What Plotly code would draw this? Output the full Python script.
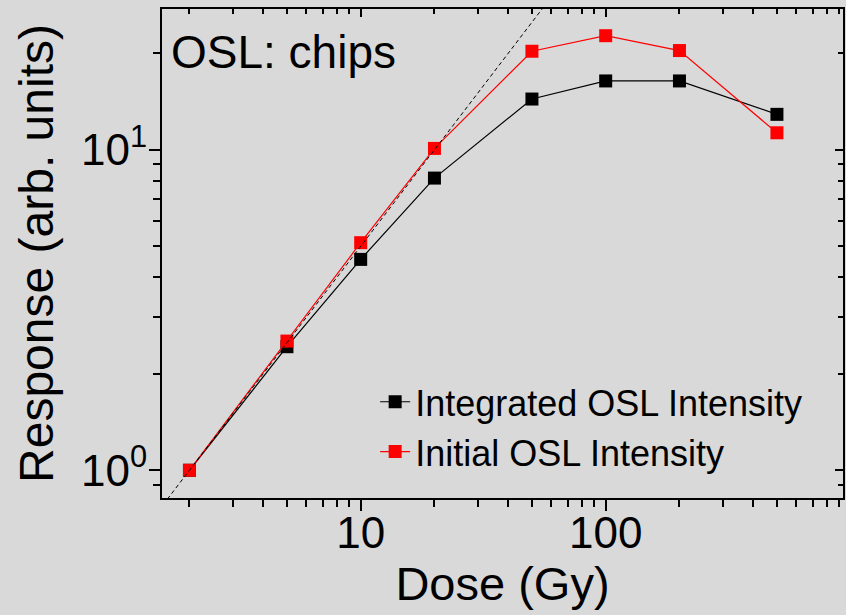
import plotly.graph_objects as go

# Data
dose = [2, 5, 10, 20, 50, 100, 200, 500]
integrated = [1.0, 2.43, 4.55, 8.16, 14.4, 16.4, 16.4, 12.9]
initial = [1.0, 2.53, 5.13, 10.1, 20.3, 22.7, 20.4, 11.3]
linear_dose = [1.5, 60]
linear_resp = [0.75, 30]

x_major = [10, 100]
x_major_text = ["10", "100"]
x_minor = [2, 3, 4, 5, 6, 7, 8, 9, 20, 30, 40, 50, 60, 70, 80, 90, 200, 300, 400, 500, 600, 700, 800, 900]
y_major = [1, 10]
y_major_text = ["10<sup>0</sup>", "10<sup>1</sup>"]
y_minor = [0.9, 2, 3, 4, 5, 6, 7, 8, 9, 20]

FONT = "Liberation Sans, Arial, sans-serif"
BG = "#d9d9d9"
xr = [0.189, 2.9686]
yr = [-0.0865, 1.4393]

fig = go.Figure()
fig.add_trace(go.Scatter(x=dose, y=integrated, mode="lines+markers", name="Integrated OSL Intensity",
                         line=dict(color="black", width=1.2),
                         marker=dict(symbol="square", size=13, color="black")))
fig.add_trace(go.Scatter(x=dose, y=initial, mode="lines+markers", name="Initial OSL Intensity",
                         line=dict(color="#ff0000", width=1.2),
                         marker=dict(symbol="square", size=13, color="#ff0000")))
fig.add_trace(go.Scatter(x=linear_dose, y=linear_resp, mode="lines", showlegend=False,
                         line=dict(color="black", width=1, dash="4px,3px")))
# invisible trace to activate the mirror axes
fig.add_trace(go.Scatter(x=linear_dose, y=linear_resp, mode="lines", showlegend=False,
                         xaxis="x2", yaxis="y2", line=dict(color="rgba(0,0,0,0)", width=0),
                         hoverinfo="skip"))

fig.update_layout(
    width=846, height=615,
    margin=dict(l=162, r=3, t=9, b=117, autoexpand=False),
    paper_bgcolor=BG, plot_bgcolor=BG,
    font=dict(family=FONT, color="black", size=36),
    xaxis=dict(type="log", range=xr, showgrid=False, zeroline=False, automargin=False,
               showline=True, linecolor="black", linewidth=2,
               ticks="outside", ticklen=11, tickwidth=2, tickcolor="black",
               tickmode="array", tickvals=x_major, ticktext=x_major_text,
               tickfont=dict(size=44), ticklabelstandoff=-16,
               minor=dict(tickmode="array", tickvals=x_minor, ticks="outside", ticklen=7,
                          tickwidth=1.5, tickcolor="black", showgrid=False),
               title=dict(text="Dose (Gy)", font=dict(size=47), standoff=0)),
    yaxis=dict(type="log", range=yr, showgrid=False, zeroline=False, automargin=False,
               showline=True, linecolor="black", linewidth=2,
               ticks="outside", ticklen=11, tickwidth=2, tickcolor="black",
               tickmode="array", tickvals=y_major, ticktext=y_major_text,
               tickfont=dict(size=44), ticklabelstandoff=-7,
               minor=dict(tickmode="array", tickvals=y_minor, ticks="outside", ticklen=7,
                          tickwidth=1.5, tickcolor="black", showgrid=False),
               title=dict(text="Response (arb. units)", font=dict(size=48), standoff=12)),
    xaxis2=dict(type="log", range=xr, overlaying="x", side="top", showgrid=False, zeroline=False,
                showline=True, linecolor="black", linewidth=2, automargin=False,
                ticks="inside", ticklen=8, tickwidth=2, tickcolor="black",
                tickmode="array", tickvals=x_major, showticklabels=False,
                minor=dict(tickmode="array", tickvals=x_minor, ticks="inside", ticklen=5,
                           tickwidth=1.5, tickcolor="black", showgrid=False)),
    yaxis2=dict(type="log", range=yr, overlaying="y", side="right", showgrid=False, zeroline=False,
                showline=True, linecolor="black", linewidth=2, automargin=False,
                ticks="inside", ticklen=8, tickwidth=2, tickcolor="black",
                tickmode="array", tickvals=y_major, showticklabels=False,
                minor=dict(tickmode="array", tickvals=y_minor, ticks="inside", ticklen=5,
                           tickwidth=1.5, tickcolor="black", showgrid=False)),
    legend=dict(x=0.313, y=0.258, xanchor="left", yanchor="top",
                bgcolor="rgba(0,0,0,0)", font=dict(size=36, family=FONT),
                tracegroupgap=0),
    annotations=[dict(text="OSL: chips", xref="paper", yref="paper", x=0.01, y=0.912,
                      xanchor="left", yanchor="middle", showarrow=False,
                      font=dict(size=46, family=FONT, color="black"))],
)

fig.write_html("out.html", config={"displayModeBar": False},
               post_script="document.body.style.margin='0';document.body.style.background='%s';" % BG)
